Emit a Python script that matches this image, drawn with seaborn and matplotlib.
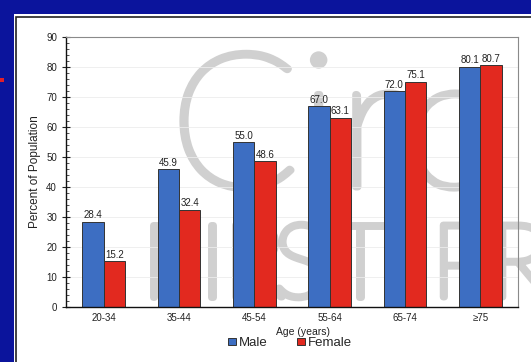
import matplotlib
matplotlib.use("Agg")
import matplotlib.pyplot as plt
import matplotlib.patches as mpatches
import matplotlib.patheffects as pe
from matplotlib.ticker import MultipleLocator
import seaborn as sns
import pandas as pd

# Prevalence by age group and sex
age_groups = ["20-34", "35-44", "45-54", "55-64", "65-74", "\u226575"]
male = [28.4, 45.9, 55.0, 67.0, 72.0, 80.1]
female = [15.2, 32.4, 48.6, 63.1, 75.1, 80.7]
sexes = ["Male", "Female"]

df = pd.DataFrame({
    "Age": age_groups * 2,
    "Sex": [sexes[0]] * len(age_groups) + [sexes[1]] * len(age_groups),
    "Percent": male + female,
})

sns.set_theme(style="white")
plt.rcParams["font.family"] = ["Liberation Sans", "DejaVu Sans"]

W, H = 531, 362
fig = plt.figure(figsize=(W / 100, H / 100), dpi=100)
fig.patch.set_facecolor("#0b149c")

# white slide panel with its thin black frame
fig.add_artist(mpatches.Rectangle((14 / W, 0), 1, (H - 14) / H,
                                  transform=fig.transFigure, facecolor="white",
                                  edgecolor="none", zorder=-5))
fig.add_artist(mpatches.Rectangle((16 / W, -0.1), 1, (H - 17) / H + 0.1,
                                  transform=fig.transFigure, facecolor="none",
                                  edgecolor="#222222", linewidth=1.2, zorder=-4))
fig.add_artist(mpatches.Rectangle((0, (H - 82) / H), 4 / W, 4 / H,
                                  transform=fig.transFigure, facecolor="#e0202a",
                                  edgecolor="none"))

ax = fig.add_axes([66 / W, (H - 307) / H, (518 - 66) / W, (307 - 37) / H])
ax.set_facecolor("none")

# faint journal watermark behind the bars
wm_color = "#d0d0d0"
wm = dict(transform=fig.transFigure, color=wm_color, family=["Lato", "DejaVu Sans"],
          weight="light", zorder=0.2, clip_on=False,
          path_effects=[pe.withStroke(linewidth=5, foreground=wm_color)])
ax.text(170 / W, (H - 187) / H, "Circ", fontsize=136, ha="left", va="baseline", **wm)
for ch, cx in zip("FIRSTPR", [170, 212, 254, 300, 360, 460, 520]):
    ax.text(cx / W, (H - 297) / H, ch, fontsize=74, ha="center", va="baseline", **wm)

sns.barplot(data=df, x="Age", y="Percent", hue="Sex", order=age_groups,
            hue_order=sexes, palette=["#3d6ec2", "#e2291f"], width=0.57,
            edgecolor="#333333", linewidth=0.7, saturation=1, ax=ax, legend=True,
            zorder=2)

for cont in ax.containers:
    ax.bar_label(cont, fmt="%.1f", padding=1, fontsize=7, color="#222222")

ax.set_ylim(0, 90)
ax.yaxis.set_major_locator(MultipleLocator(10))
ax.yaxis.set_minor_locator(MultipleLocator(2))
ax.tick_params(axis="y", which="major", direction="inout", length=6, width=0.8,
               labelsize=7, colors="#222222", left=True)
ax.tick_params(axis="y", which="minor", direction="in", length=2.5, width=0.6,
               left=True, colors="#333333")
ax.tick_params(axis="x", length=0, labelsize=7, colors="#222222", pad=4)
ax.yaxis.grid(True, which="major", color="#ececec", linewidth=0.6)
ax.set_axisbelow(True)

for side in ["left", "bottom"]:
    ax.spines[side].set_color("#111111")
    ax.spines[side].set_linewidth(1.0)
for side in ["top", "right"]:
    ax.spines[side].set_color("#8a8a8a")
    ax.spines[side].set_linewidth(0.8)

ax.set_ylabel("Percent of Population", fontsize=8.5, color="#222222", labelpad=4)
ax.set_xlabel("Age (years)", fontsize=7.5, color="#222222")
ax.xaxis.set_label_coords(237 / 452, -0.075)

handles, labels = ax.get_legend_handles_labels()
ax.legend(handles, labels, ncol=2, loc="center", frameon=False, fontsize=9.5,
          bbox_to_anchor=(224 / 452, -0.134), handlelength=0.55, handleheight=0.55,
          handletextpad=0.2, columnspacing=2.3, borderpad=0)

fig.savefig("out.png", dpi=100, facecolor=fig.get_facecolor())
